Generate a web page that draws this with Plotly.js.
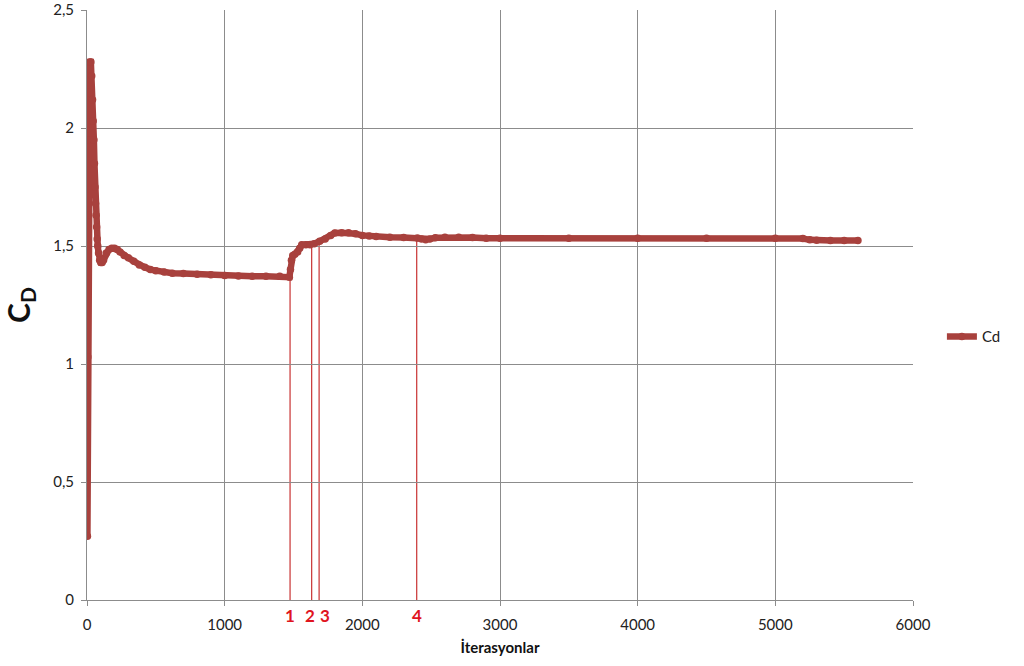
<!DOCTYPE html>
<html>
<head>
<meta charset="utf-8">
<script src="https://cdn.plot.ly/plotly-3.0.1.min.js"></script>
<style>html,body{margin:0;padding:0;background:#fff;}#chart{width:1024px;height:666px;}</style>
</head>
<body>
<div id="chart"></div>
<script>
const iterations = [3,6,9,12,16,22,28,34,40,45,50,54,58,62,66,70,74,78,84,92,100,110,120,140,160,180,200,220,240,270,300,340,380,420,460,500,560,620,700,800,900,1000,1100,1200,1300,1400,1470,1478,1485,1495,1510,1530,1545,1560,1590,1620,1650,1690,1730,1770,1800,1850,1900,1950,2000,2050,2100,2200,2300,2400,2430,2460,2490,2530,2600,2700,2800,2900,3000,3500,4000,4500,5000,5200,5250,5300,5400,5500,5600];
const cdValues = [0.27,1.03,1.63,1.95,2.15,2.28,2.28,2.22,2.12,2.03,1.95,1.85,1.75,1.68,1.63,1.58,1.53,1.50,1.47,1.44,1.43,1.43,1.44,1.47,1.485,1.49,1.49,1.485,1.475,1.46,1.45,1.435,1.42,1.41,1.40,1.395,1.39,1.385,1.383,1.38,1.378,1.375,1.373,1.372,1.372,1.372,1.368,1.40,1.44,1.46,1.465,1.475,1.49,1.505,1.505,1.505,1.51,1.52,1.53,1.545,1.555,1.556,1.556,1.552,1.545,1.542,1.54,1.537,1.536,1.534,1.53,1.526,1.53,1.535,1.537,1.537,1.536,1.533,1.533,1.533,1.533,1.533,1.533,1.532,1.526,1.524,1.523,1.523,1.523];
const markerX = [1475,1632,1686,2395];
const markerTop = [1.37,1.505,1.515,1.534];
const markerLabels = ['1','2','3','4'];

const lineColor = '#A8413D';
const trace = {
  x: iterations, y: cdValues, type: 'scatter', mode: 'lines+markers', name: 'Cd',
  line: {color: lineColor, width: 6.5},
  marker: {color: lineColor, size: 7.5, symbol: 'circle'}
};

const labelShift = [0, -2, 6, 0];
const shapes = markerX.map((x, i) => ({
  type: 'line', xref: 'x', yref: 'y', x0: x, x1: x, y0: 0, y1: markerTop[i],
  line: {color: '#C83232', width: 1.2}, layer: 'below'
}));
const annotations = markerX.map((x, i) => ({
  x: x, y: -0.027, xref: 'x', yref: 'paper', yanchor: 'middle', xshift: labelShift[i],
  text: '<b>' + markerLabels[i] + '</b>', showarrow: false,
  font: {family: 'Lato, sans-serif', size: 17, color: '#E0141E'}
}));

const layout = {
  width: 1024, height: 666,
  margin: {l: 87, r: 111, t: 10, b: 66},
  paper_bgcolor: '#fff', plot_bgcolor: '#fff',
  separators: ',.',
  font: {family: 'Lato, sans-serif', size: 15, color: '#222'},
  showlegend: true,
  legend: {x: 1.035, xanchor: 'left', y: 0.446, yanchor: 'middle', font: {size: 15}, bgcolor: 'rgba(0,0,0,0)'},
  xaxis: {
    range: [0, 6000], dtick: 1000, tick0: 0, showgrid: true, gridcolor: '#8C8C8C', gridwidth: 1,
    showline: true, linecolor: '#8C8C8C', ticks: 'outside', ticklen: 5, tickcolor: '#8C8C8C',
    zeroline: false, ticklabelstandoff: 6,
    title: {text: '<b>İterasyonlar</b>', font: {size: 15, color: '#111'}, standoff: 10}
  },
  yaxis: {
    range: [0, 2.5], dtick: 0.5, tick0: 0, showgrid: true, gridcolor: '#8C8C8C', gridwidth: 1,
    showline: true, linecolor: '#8C8C8C', ticks: 'outside', ticklen: 5, tickcolor: '#8C8C8C',
    zeroline: false, ticklabelstandoff: 4,
    title: {text: '<b>C<sub>D</sub></b>', font: {size: 30, color: '#111'}, standoff: 15}
  },
  shapes: shapes,
  annotations: annotations
};

Plotly.newPlot('chart', [trace], layout, {displayModeBar: false, staticPlot: true});
</script>
</body>
</html>
